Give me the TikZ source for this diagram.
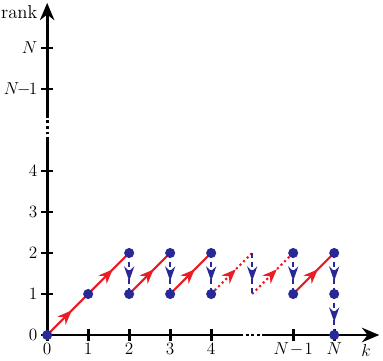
\documentclass[tikz,border=0pt]{standalone}
\usepackage{amsmath}
\usepackage{tikz}
\usetikzlibrary{arrows.meta,decorations.markings}
\definecolor{dotblue}{RGB}{40,40,150}
\definecolor{climbred}{RGB}{236,28,36}
\tikzstyle{axis} = [draw, line width=2pt]
\tikzstyle{tick} = [draw, line width=2pt]
\tikzstyle{dot} = [circle, fill=dotblue, inner sep=0pt, minimum size=7pt]
\tikzstyle{climb} = [draw=climbred, line width=1.5pt, postaction={decorate},
  decoration={markings, mark=at position 0.6 with {\arrow[climbred,solid]{Stealth[length=10pt,width=8pt]}}}]
\tikzstyle{drop} = [draw=dotblue, line width=1.5pt, dash pattern=on 3.5pt off 2.5pt, postaction={decorate},
  decoration={markings, mark=at position 0.68 with {\arrow[dotblue,solid]{Stealth[length=10pt,width=7pt]}}}]

\begin{document}
\begin{tikzpicture}[font=\fontsize{13}{15}\selectfont]
\useasboundingbox (-1.15,-0.61) rectangle (8.19,8.17);
%
\coordinate (o) at (0,0);
\coordinate (xa) at (4.7,0);
\coordinate (xb) at (5.25,0);
\coordinate (xend) at (8.1,0);
\coordinate (ya) at (0,4.75);
\coordinate (yb) at (0,5.3);
\coordinate (yend) at (0,8.1);
\path[axis] (o) -- (xa);
\path[axis, dotted] (xa) -- (xb);
\path[axis, -{Stealth[length=12pt,width=10pt]}] (xb) -- (xend);
\path[axis] (o) -- (ya);
\path[axis, dotted] (ya) -- (yb);
\path[axis, -{Stealth[length=12pt,width=10pt]}] (yb) -- (yend);
%
\foreach \x/\lab in {0/0,1/1,2/2,3/3,4/4,6/{N\!-\!1},7/N} {
  \path[tick] (\x,-0.15) -- (\x,0.15);
  \node[anchor=north, inner sep=1pt] (xl\x) at (\x,-0.15) {$\lab$};
}
\foreach \y/\lab in {0/0,1/1,2/2,3/3,4/4,6/{N\!\!-\!\!1},7/N} {
  \path[tick] (-0.15,\y) -- (0.15,\y);
  \node[anchor=east, inner sep=1pt] (yl\y) at (-0.2,\y) {$\lab$};
}
\node[inner sep=1pt] (rank) at (-0.68,7.88) {rank};
\node (klab) at (7.78,-0.38) {$k$};
%
\foreach \x/\y in {0/0,1/1,2/2,2/1,3/2,3/1,4/2,4/1,5/2,5/1,6/2,6/1,7/2,7/1,7/0}
  \coordinate (p\x\y) at (\x,\y);
%
\path[climb] (p00) -- (p11);
\path[climb] (p11) -- (p22);
\path[climb] (p21) -- (p32);
\path[climb] (p31) -- (p42);
\path[climb, dotted] (p41) -- (p52);
\path[climb, dotted] (p51) -- (p62);
\path[climb] (p61) -- (p72);
%
\path[drop] (p22) -- (p21);
\path[drop] (p32) -- (p31);
\path[drop] (p42) -- (p41);
\path[drop] (p52) -- (p51);
\path[drop] (p62) -- (p61);
\path[drop] (p72) -- (p71);
\path[drop] (p71) -- (p70);
%
\foreach \p in {p00,p11,p22,p21,p32,p31,p42,p41,p62,p61,p72,p71,p70}
  \node[dot] (d\p) at (\p) {};
\end{tikzpicture}
\end{document}
